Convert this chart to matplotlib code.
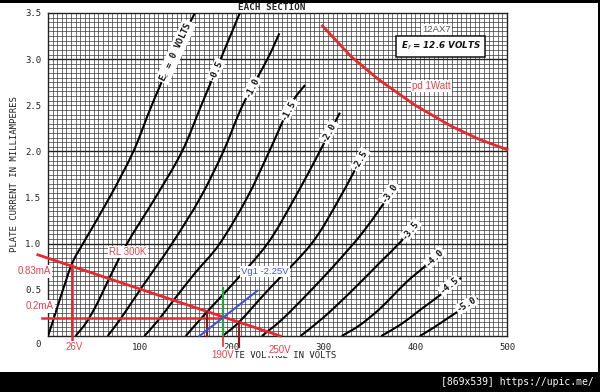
import matplotlib

matplotlib.use("Agg")
import matplotlib.pyplot as plt
import numpy as np
from matplotlib.patches import PathPatch, Rectangle
from matplotlib.path import Path
from matplotlib.ticker import MultipleLocator

# plate curves: plate volts / plate mA for each grid voltage
ec_0_v = [0, 5, 13, 26, 38, 67, 93, 113, 135, 160]
ec_0_i = [0, 0.15, 0.4, 0.78, 1.0, 1.5, 2.0, 2.5, 3.0, 3.5]
ec_05_v = [30, 42, 54, 65, 86, 117, 146, 167, 188, 209]
ec_05_i = [0, 0.15, 0.36, 0.59, 1.0, 1.5, 2.0, 2.5, 3.0, 3.5]
ec_10_v = [65, 80, 101, 135, 166, 191, 212, 239, 252]
ec_10_i = [0, 0.2, 0.51, 1.0, 1.5, 2.0, 2.5, 3.0, 3.28]
ec_15_v = [105, 120, 137, 160, 187, 217, 241, 264, 280]
ec_15_i = [0, 0.17, 0.39, 0.68, 1.0, 1.5, 2.0, 2.5, 2.72]
ec_20_v = [150, 173, 200, 239, 269, 296, 318]
ec_20_i = [0, 0.26, 0.55, 1.0, 1.5, 2.0, 2.42]
ec_25_v = [190, 208, 240, 287, 318, 345]
ec_25_i = [0, 0.15, 0.5, 1.0, 1.5, 2.0]
ec_30_v = [233, 255, 285, 315, 345, 380]
ec_30_i = [0, 0.18, 0.48, 0.8, 1.15, 1.64]
ec_35_v = [275, 300, 330, 362, 385, 403]
ec_35_i = [0, 0.2, 0.48, 0.8, 1.03, 1.25]
ec_40_v = [320, 340, 362, 390, 410, 429]
ec_40_i = [0, 0.12, 0.3, 0.58, 0.75, 0.93]
ec_45_v = [363, 385, 405, 428, 450]
ec_45_i = [0, 0.13, 0.28, 0.45, 0.63]
ec_50_v = [405, 420, 438, 455, 468]
ec_50_i = [0, 0.09, 0.21, 0.32, 0.41]

curve_labels = ["E$_c$ = 0 VOLTS", "-0.5", "-1.0", "-1.5", "-2.0", "-2.5",
                "-3.0", "-3.5", "-4.0", "-4.5", "-5.0"]

# 1 W plate dissipation curve
pd_v = [299, 330, 360, 400, 440, 470, 500]
pd_i = [3.36, 3.03, 2.78, 2.5, 2.27, 2.13, 2.02]

# 300k load line and the -2.25 V working point
load_v = [-11, 253]
load_i = [0.88, 0.0]
vg225_v = [165, 228]
vg225_i = [0.0, 0.49]

x_ticks = [100, 200, 300, 400, 500]
y_ticks = [0.5, 1.0, 1.5, 2.0, 2.5, 3.0, 3.5]

curves = [(ec_0_v, ec_0_i), (ec_05_v, ec_05_i), (ec_10_v, ec_10_i),
          (ec_15_v, ec_15_i), (ec_20_v, ec_20_i), (ec_25_v, ec_25_i),
          (ec_30_v, ec_30_i), (ec_35_v, ec_35_i), (ec_40_v, ec_40_i),
          (ec_45_v, ec_45_i), (ec_50_v, ec_50_i)]

RED = "#e42a2e"
RED_TXT = "#e2434b"
DARK_RED = "#8c1c1c"
MONO = "DejaVu Sans Mono"
SANS = "Liberation Sans"


def smooth_curve(xs, ys):
    """Catmull-Rom through the read points, drawn as bezier segments."""
    p = np.column_stack([xs, ys]).astype(float)
    verts, codes = [p[0]], [Path.MOVETO]
    n = len(p)
    for k in range(n - 1):
        p0 = p[k - 1] if k > 0 else p[k]
        p3 = p[k + 2] if k + 2 < n else p[k + 1]
        verts += [p[k] + (p[k + 1] - p0) / 6, p[k + 1] - (p3 - p[k]) / 6, p[k + 1]]
        codes += [Path.CURVE4] * 3
    return Path(verts, codes)


fig = plt.figure(figsize=(6.0, 3.92), dpi=100)
ax = fig.add_axes([48 / 600, 1 - 336 / 392, 459 / 600, 323 / 392])
ax.set_xlim(0, 500)
ax.set_ylim(0, 3.5)

ax.xaxis.set_major_locator(MultipleLocator(100))
ax.xaxis.set_minor_locator(MultipleLocator(5))
ax.yaxis.set_major_locator(MultipleLocator(0.5))
ax.yaxis.set_minor_locator(MultipleLocator(0.05))
ax.grid(which="both", color="#3a3a3a", lw=0.5)
ax.set_axisbelow(True)
ax.tick_params(which="both", length=0, labelsize=6.5, labelcolor="#222222", pad=5)
ax.set_xticks(x_ticks)
ax.set_xticklabels([str(t) for t in x_ticks], family=MONO)
ax.set_yticks(y_ticks)
ax.set_yticklabels([f"{t:.1f}" for t in y_ticks], family=MONO)
for sp in ax.spines.values():
    sp.set_color("#222222")
    sp.set_linewidth(1.0)
for y in [1, 2, 3]:
    ax.axhline(y, color="#222222", lw=1.0, zorder=1)

ax.text(-11, -0.09, "0", ha="center", va="center", fontsize=6.5,
        family=MONO, color="#222222", clip_on=False)
ax.set_xlabel("PLATE VOLTAGE IN VOLTS", family=MONO, fontsize=6.5,
              color="#222222", labelpad=-1)
ax.set_ylabel("PLATE CURRENT IN MILLIAMPERES", family=MONO, fontsize=6.5,
              color="#222222", labelpad=4)
fig.text(272 / 600, 1 - 7 / 392, "EACH SECTION", ha="center", va="center",
         family=MONO, fontsize=6.7, weight="bold", color="#222222")

for v, i in curves:
    ax.add_patch(PathPatch(smooth_curve(v, i), fill=False, ec="black",
                           lw=1.5, zorder=3))

# curve labels sit on the curves near their upper ends
label_pos = [(139, 3.08, 65), (183, 2.88, 66), (222, 2.69, 63), (262, 2.45, 62),
             (306, 2.21, 61), (340, 1.91, 60), (372, 1.55, 55), (395, 1.15, 51),
             (421, 0.85, 44), (437, 0.55, 39), (456, 0.34, 31)]
for text, (x, y, rot) in zip(curve_labels, label_pos):
    ax.text(x, y, text, rotation=rot, ha="center", va="center", fontsize=6.5,
            family=MONO, weight="bold", color="#111111", zorder=4,
            rotation_mode="anchor",
            bbox=dict(boxstyle="square,pad=0.12", fc="white", ec="none"))

ax.text(428, 3.14, "E$_f$ = 12.6 VOLTS", ha="center", va="center", fontsize=6.3,
        style="italic", weight="bold", color="#111111", zorder=4,
        bbox=dict(boxstyle="square,pad=0.5", fc="white", ec="#111111", lw=1.1))
ax.text(423, 3.32, "12AX7", ha="center", va="center", fontsize=6.8, family=SANS,
        color="#555555", zorder=4,
        bbox=dict(boxstyle="square,pad=0.1", fc="white", ec="none"))

# annotations
ax.plot(pd_v, pd_i, color=RED, lw=2.0, zorder=5, clip_on=False)
ax.text(418, 2.71, "pd 1Watt", ha="center", va="center", fontsize=7,
        family=SANS, color=RED_TXT, zorder=6,
        bbox=dict(boxstyle="square,pad=0.1", fc="white", ec="none"))

ax.plot(load_v, load_i, color=RED, lw=2.0, zorder=5, clip_on=False)
ax.plot([-6.5, 189.5], [0.2, 0.2], color=RED, lw=1.8, zorder=5, clip_on=False)
ax.plot([26.5, 26.5], [0.77, -0.12], color=RED, lw=1.8, zorder=5, clip_on=False)
ax.plot([173.5, 173.5], [0.26, 0.0], color=DARK_RED, lw=1.6, zorder=5, clip_on=False)
ax.plot([208.5, 208.5], [0.15, -0.12], color=DARK_RED, lw=1.6, zorder=5, clip_on=False)
ax.plot([191, 191], [0.0, -0.11], color=RED, lw=1.2, zorder=5, clip_on=False)
ax.plot([191, 191], [0.52, 0.01], color="#23a441", lw=1.6, zorder=5, clip_on=False)
ax.plot(vg225_v, vg225_i, color="#3f55d8", lw=1.5, zorder=5, clip_on=False)

red_notes = [("RL 300K", 87, 0.91), ("0.83mA", -15, 0.70), ("0.2mA", -9, 0.32),
             ("26V", 29, -0.12), ("190V", 190.5, -0.205), ("250V", 252.5, -0.15)]
for text, x, y in red_notes:
    ax.text(x, y, text, ha="center", va="center", fontsize=7, family=SANS,
            color=RED_TXT, zorder=7, clip_on=False,
            bbox=dict(boxstyle="square,pad=0.12", fc="white", ec="none"))
ax.text(236, 0.70, "Vg1 -2.25V", ha="center", va="center", fontsize=6.8,
        family=SANS, color="#3f55d8", zorder=7,
        bbox=dict(boxstyle="square,pad=0.12", fc="white", ec="none"))

# black frame bands of the screenshot
fig.patches.append(Rectangle((0, 1 - 3 / 392), 1, 3 / 392, transform=fig.transFigure,
                             fc="black", ec="none", zorder=10))
fig.patches.append(Rectangle((0, 0), 1, 20 / 392, transform=fig.transFigure,
                             fc="black", ec="none", zorder=10))
fig.patches.append(Rectangle((598 / 600, 0), 2 / 600, 1, transform=fig.transFigure,
                             fc="black", ec="none", zorder=10))
fig.text(594 / 600, 10 / 392, "[869x539] https://upic.me/", ha="right", va="center",
         family=MONO, fontsize=7, color="white", zorder=11)

fig.savefig("out.png", dpi=100)
